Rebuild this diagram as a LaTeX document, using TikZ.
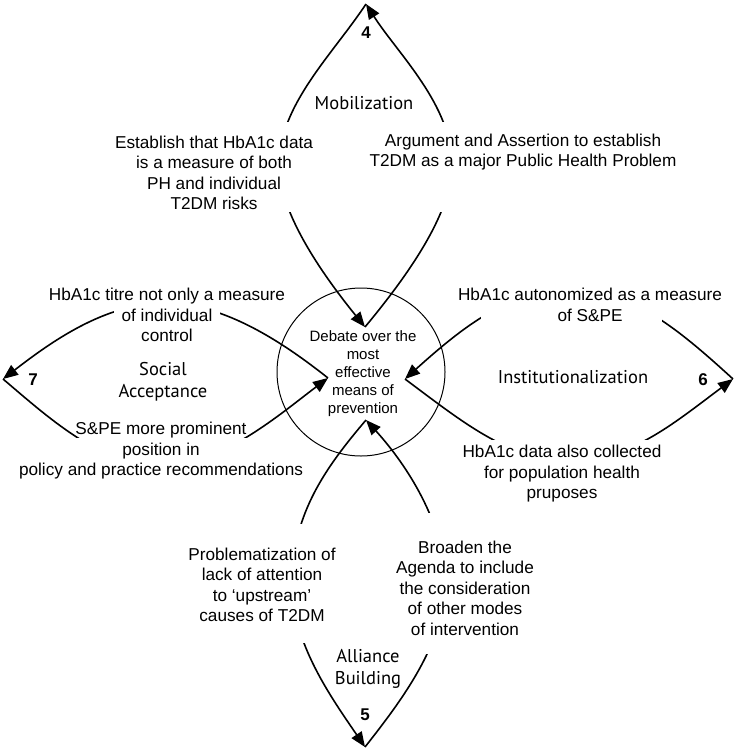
\documentclass[tikz,border=0pt]{standalone}
\usepackage{fontspec}
\setmainfont{Liberation Sans}
\newfontfamily\labelfont{PT Sans}
\usetikzlibrary{arrows.meta}
\tikzset{
  loopline/.style={line width=1.6pt, line join=round},
  tipend/.style={-{Triangle[length=15pt,width=12pt]}},
  txt/.style={align=center, font=\fontsize{17.2}{20.5}\selectfont, inner sep=0pt},
  hubtxt/.style={align=center, font=\fontsize{15}{18}\selectfont},
  lbl/.style={align=center, font=\labelfont\fontsize{18.5}{22}\selectfont, inner sep=0pt},
  num/.style={font=\bfseries\fontsize{17}{20}\selectfont, inner sep=0pt},
  mask/.style={fill=white, draw=none},
}
\begin{document}
\begin{tikzpicture}[x=1pt,y=-1pt]
\useasboundingbox (0,0) rectangle (754,750);
% hub
\node[draw, circle, line width=1pt, minimum size=168pt, inner sep=0pt] (hub) at (361,372) {};
\node[hubtxt] (hubtext) at (363,374) {Debate over the\\most\\effective\\means of\\prevention};
% tips and apexes
\coordinate (P) at (365,327);
\coordinate (L) at (328,378);
\coordinate (R) at (405,379);
\coordinate (B) at (366,420);
\coordinate (A4) at (366,4);
\coordinate (A7) at (3,379);
\coordinate (A6) at (733,379);
\coordinate (A5) at (365,747);
% top loop
\draw[loopline, tipend] (P) .. controls (404,280) and (452,215) .. (452,165) .. controls (452,105) and (398,54) .. (A4);
\draw[loopline, tipend] (A4) .. controls (333,54) and (279,105) .. (279,165) .. controls (279,215) and (327,280) .. (P);
% left loop
\draw[loopline, tipend] (L) .. controls (285,344) and (225,303) .. (165,303) .. controls (105,303) and (51,342) .. (A7);
\draw[loopline, tipend] (A7) .. controls (49,418) and (101,466) .. (161,466) .. controls (221,466) and (280,414) .. (L);
% right loop
\draw[loopline, tipend] (R) .. controls (469,427) and (510,460) .. (570,460) .. controls (630,460) and (669,427) .. (A6);
\draw[loopline, tipend] (A6) .. controls (674,325) and (630,290) .. (570,290) .. controls (510,290) and (465,325) .. (R);
% bottom loop
\draw[loopline, tipend] (B) .. controls (327,466) and (292,513) .. (292,583) .. controls (292,643) and (331,697) .. (A5);
\draw[loopline, tipend] (A5) .. controls (402,700) and (445,643) .. (445,583) .. controls (445,523) and (406,464) .. (B);
% masks where the loops pass behind the texts
\fill[mask] (110,122) rectangle (318,212);
\fill[mask] (378,122) rectangle (672,212);
\fill[mask] (114,296) rectangle (220,330);
\fill[mask] (75,438) rectangle (247,475);
\fill[mask] (481,284) rectangle (662,326);
\fill[mask] (488,440) rectangle (650,470);
\fill[mask] (190,524) rectangle (340,643);
\fill[mask] (396,513) rectangle (532,654);
% numbers and stage labels
\node[num] (n4) at (366,33) {4};
\node[num] (n7) at (33,380) {7};
\node[num] (n6) at (703,380) {6};
\node[num] (n5) at (365,715) {5};
\node[lbl] (mob) at (364,103) {Mobilization};
\node[lbl] (soc) at (163,382) {Social\\Acceptance};
\node[lbl] (inst) at (573,377) {Institutionalization};
\node[lbl] (all) at (368,669) {Alliance\\Building};
% texts
\node[txt] (t1) at (214,173) {Establish that HbA1c data\\is a measure of both\\PH and individual\\T2DM risks};
\node[txt] (t2) at (523,152) {Argument and Assertion to establish\\T2DM as a major Public Health Problem};
\node[txt] (t3) at (167,315) {HbA1c titre not only a measure\\of individual\\control};
\node[txt] (t4) at (161,451) {S\&PE more prominent\\position in\\policy and practice recommendations};
\node[txt] (t5) at (590,305) {HbA1c autonomized as a measure\\of S\&PE};
\node[txt] (t6) at (562,474) {HbA1c data also collected\\for population health\\pruposes};
\node[txt] (t7) at (262,585) {Problematization of\\lack of attention\\to `upstream'\\causes of T2DM};
\node[txt] (t8) at (465,588) {Broaden the\\Agenda to include\\the consideration\\of other modes\\of intervention};
\end{tikzpicture}
\end{document}
